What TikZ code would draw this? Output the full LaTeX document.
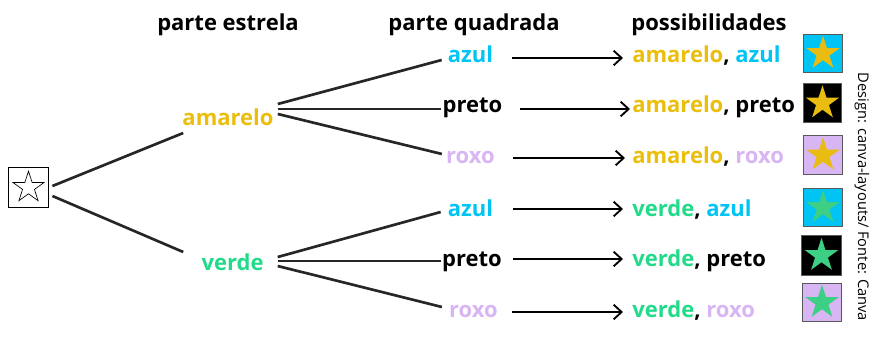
\documentclass[tikz,border=0pt]{standalone}
\usepackage{fontspec}
\setmainfont{Open Sans}
\usetikzlibrary{shapes.geometric,arrows.meta,calc}
\definecolor{amar}{HTML}{EBBE0C}
\definecolor{azul}{HTML}{00C4F4}
\definecolor{roxo}{HTML}{D8B5F3}
\definecolor{verd}{HTML}{22DB8A}
\definecolor{verdestar}{HTML}{3DD085}
\definecolor{ouro}{HTML}{E8BC10}
\begin{document}
\begin{tikzpicture}[x=0.75pt,y=-0.75pt,
    lbl/.style={inner sep=0,anchor=base,font=\fontsize{16.5}{20}\selectfont\bfseries},
    res/.style={lbl,anchor=base west},
    ramo/.style={line width=2pt,draw=black!85},
    seta/.style={line width=1.4pt,-{Straight Barb[length=6pt,width=11pt]}},
    caixa/.style={draw=black!65,line width=0.7pt,minimum size=29pt,inner sep=0},
    estrela/.style={star,star points=5,star point ratio=2.618,minimum size=26.5pt,inner sep=0}]
  \useasboundingbox (0,0) rectangle (874,337);

  % titulos
  \node [lbl] (h1) at (228,30) {parte estrela};
  \node [lbl] (h2) at (474,30) {parte quadrada};
  \node [lbl] (h3) at (709,30) {possibilidades};

  \node [draw,line width=0.9pt,minimum size=30.5pt,inner sep=0] (s) at (28.5,187.5) {};
  \node [estrela,draw,line width=0.5pt,fill=white,minimum size=24.5pt] (s0) at (s) {};

  \node [lbl,text=amar] (am) at (228,125) {amarelo};
  \node [lbl,text=verd] (vd) at (232.5,270) {verde};

  \draw [ramo] ($(s.east)+(3,-1.5)$) -- ($(am.base west)+(1,8)$);
  \draw [ramo] ($(s.east)+(3,8.5)$) -- ($(vd.base west)+(-18,-18)$);

  \node [lbl,text=azul] (a1) at (470.5,62) {azul};
  \node [lbl] (p1) at (472.5,112) {preto};
  \node [lbl,text=roxo] (r1) at (470.5,163) {roxo};
  \node [lbl,text=azul] (a2) at (470.5,216) {azul};
  \node [lbl] (p2) at (472,266) {preto};
  \node [lbl,text=roxo] (r2) at (473.5,317) {roxo};

  \draw [ramo] ($(am.base east)+(4,-21)$) -- ($(a1.base west)+(-6,-2)$);
  \draw [ramo] ($(am.base east)+(4,-16)$) -- ($(p1.base west)+(-1,-3)$);
  \draw [ramo] ($(am.base east)+(4,-11)$) -- ($(r1.base west)+(-4,-9)$);
  \draw [ramo] ($(vd.base east)+(14,-13)$) -- ($(a2.base west)+(-7,-4)$);
  \draw [ramo] ($(vd.base east)+(14,-9)$) -- ($(p2.base west)+(-1,-5)$);
  \draw [ramo] ($(vd.base east)+(14,-4)$) -- ($(r2.base west)+(-7,-10)$);

  % possibilidades
  \node [res] (ra1) at (632,62) {\textcolor{amar}{amarelo}, \textcolor{azul}{azul}};
  \node [res] (rp1) at (632,112) {\textcolor{amar}{amarelo}, preto};
  \node [res] (rr1) at (632,163) {\textcolor{amar}{amarelo}, \textcolor{roxo}{roxo}};
  \node [res] (ra2) at (632,216) {\textcolor{verd}{verde}, \textcolor{azul}{azul}};
  \node [res] (rp2) at (632,266) {\textcolor{verd}{verde}, preto};
  \node [res] (rr2) at (632,317) {\textcolor{verd}{verde}, \textcolor{roxo}{roxo}};

  \draw [seta] ($(a1.base east)+(19,-4)$) -- ($(ra1.base west)+(-9,-4)$);
  \draw [seta] ($(p1.base east)+(17,-3)$) -- ($(rp1.base west)+(-2,-3)$);
  \draw [seta] ($(r1.base east)+(18,-5)$) -- ($(rr1.base west)+(-7,-5)$);
  \draw [seta] ($(a2.base east)+(20,-7)$) -- ($(ra2.base west)+(-9,-7)$);
  \draw [seta] ($(p2.base east)+(11,-7)$) -- ($(rp2.base west)+(-9,-7)$);
  \draw [seta] ($(r2.base east)+(14,-5)$) -- ($(rr2.base west)+(-9,-5)$);

  \node [caixa,fill=azul] (c1) at (823,53.5) {};
  \node [estrela,fill=ouro] (e1) at (c1) {};
  \node [caixa,fill=black] (c2) at (822.5,103) {};
  \node [estrela,fill=ouro] (e2) at (c2) {};
  \node [caixa,fill=roxo] (c3) at (823,155) {};
  \node [estrela,fill=ouro] (e3) at (c3) {};
  \node [caixa,fill=azul] (c4) at (823,207.5) {};
  \node [estrela,fill=verdestar] (e4) at (c4) {};
  \node [caixa,fill=black,minimum size=30.5pt] (c5) at (821.5,255.5) {};
  \node [estrela,fill=verdestar] (e5) at (c5) {};
  \node [caixa,fill=roxo] (c6) at (822,302.5) {};
  \node [estrela,fill=verdestar] (e6) at (c6) {};

  \node [rotate=-90,font=\fontsize{11}{13}\selectfont] (cred) at (862,197) {Design: canva-layouts/ Fonte: Canva};
\end{tikzpicture}
\end{document}
